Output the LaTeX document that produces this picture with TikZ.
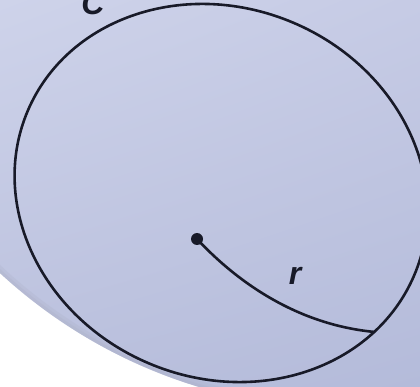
\documentclass[tikz,border=0pt]{standalone}
\usepackage{fontspec}
\setmainfont{Liberation Sans}
\usetikzlibrary{shadings}
\definecolor{ink}{RGB}{24,26,40}
\definecolor{bgUL}{RGB}{206,211,234}
\definecolor{bgUR}{RGB}{198,203,229}
\definecolor{bgLL}{RGB}{186,192,221}
\definecolor{bgLR}{RGB}{180,187,218}
\definecolor{rim}{RGB}{172,176,198}
\tikzset{
  curveline/.style={draw=ink, line width=2.6pt},
  lbl/.style={font=\fontsize{32}{32}\selectfont\bfseries\itshape, text=ink, inner sep=0pt},
}
\begin{document}
\begin{tikzpicture}[x=1pt,y=-1pt]
\useasboundingbox (0,0) rectangle (420,387);
\fill[white] (0,0) rectangle (420,387);
\begin{scope}
  \clip (0,0) rectangle (420,387);
  \clip (347.5,-104) circle[radius=512.8pt];
  \shade[upper left=bgUL, upper right=bgUR, lower left=bgLL, lower right=bgLR] (0,0) rectangle (420,387);
  \draw[rim, line width=12pt, opacity=0.25] (347.5,-104) circle[radius=512.8pt];
  \draw[rim, line width=6pt, opacity=0.3] (347.5,-104) circle[radius=512.8pt];
\end{scope}
\draw[curveline, rotate around={-23:(221,193)}] (221,193) ellipse [x radius=210pt, y radius=185pt];
\node[circle, fill=ink, inner sep=0pt, minimum size=12pt] (o) at (197,239) {};
\coordinate (p) at (375,332);
\draw[curveline] (o.center) .. controls (240,285) and (300,325) .. (p);
\node[lbl] (r) at (295,276) {r};
\node[lbl, anchor=base] (c) at (93,15) {C};
\end{tikzpicture}
\end{document}
